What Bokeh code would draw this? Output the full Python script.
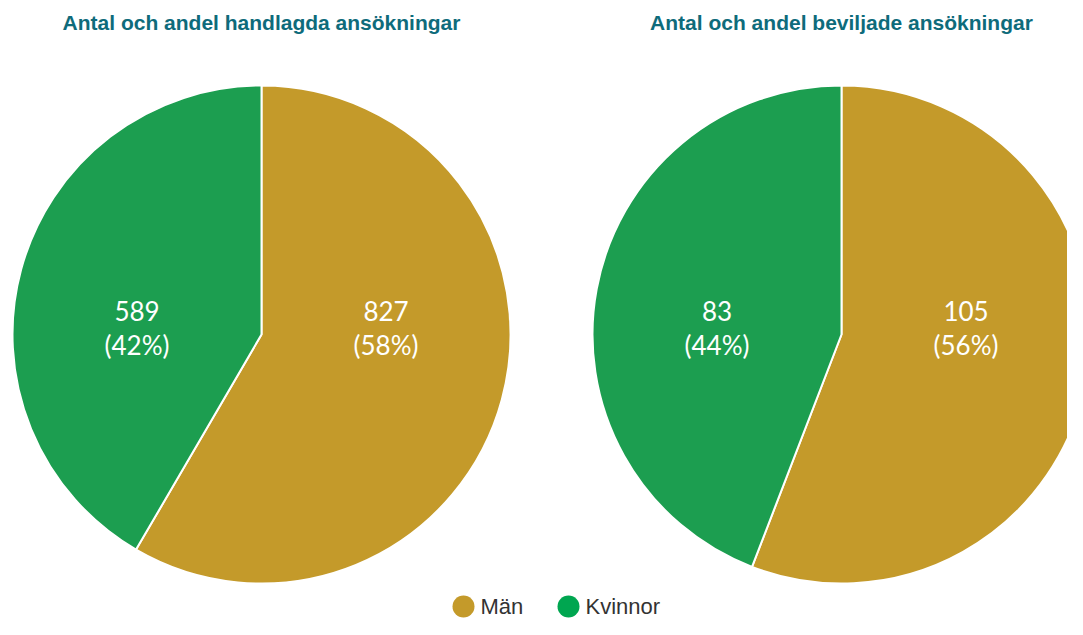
import math
from bokeh.plotting import figure
from bokeh.models import Range1d, ColumnDataSource
from bokeh.core.properties import value
from bokeh.embed import file_html
from bokeh.resources import INLINE

# ---- data ----
categories = ["Män", "Kvinnor"]
handlagda = [827, 589]
beviljade = [105, 83]
titles = ["Antal och andel handlagda ansökningar", "Antal och andel beviljade ansökningar"]
colors = ["#c49a2a", "#1c9e50"]
legend_colors = ["#c49a2a", "#00a650"]

# ---- layout (data units = page pixels; y is negated) ----
W, H = 1067, 619
p = figure(width=W, height=H, x_range=Range1d(0, W), y_range=Range1d(-H, 0),
           output_backend="svg", toolbar_location=None, min_border=0)
p.axis.visible = False
p.grid.visible = False
p.outline_line_color = None
p.background_fill_color = "white"
p.border_fill_color = "white"

centers_x = [261, 841]
cy = -334
R = 249

for cx, series, title in zip(centers_x, [handlagda, beviljade], titles):
    total = sum(series)
    starts, ends = [], []
    a = math.pi / 2
    for v in series:
        starts.append(a)
        a = a - 2 * math.pi * v / total
        ends.append(a)
    src = ColumnDataSource(dict(start=starts, end=ends, color=colors, cat=categories))
    p.wedge(x=cx, y=cy, radius=R, start_angle="start", end_angle="end", direction="clock",
            fill_color="color", line_color="white", line_width=2, source=src)
    # labels: Män on right, Kvinnor on left
    lx = [cx + R / 2, cx - R / 2]
    nums = [str(v) for v in series]
    pcts = ["(%d%%)" % round(100 * v / total) for v in series]
    p.text(x=lx, y=[cy + 24] * 2, text=nums, text_color="white", text_align="center",
           text_baseline="middle", text_font=value("Lato"), text_font_size="26px")
    p.text(x=lx, y=[cy - 10] * 2, text=pcts, text_color="white", text_align="center",
           text_baseline="middle", text_font=value("Lato"), text_font_size="26px")
    p.text(x=[cx], y=[-22], text=[title], text_color="#0e6b7b", text_align="center",
           text_baseline="middle", text_font=value("Liberation Sans"), text_font_style="bold",
           text_font_size="21px")

# legend
leg_x = [463, 568]
leg_y = -606
p.scatter(x=leg_x, y=[leg_y] * 2, size=22, marker="circle", fill_color=legend_colors, line_color=None)
p.text(x=[x + 17 for x in leg_x], y=[leg_y] * 2, text=categories, text_color="#333333",
       text_align="left", text_baseline="middle", text_font=value("Liberation Sans"),
       text_font_size="22px")

open("out.html", "w").write(file_html(p, INLINE))
